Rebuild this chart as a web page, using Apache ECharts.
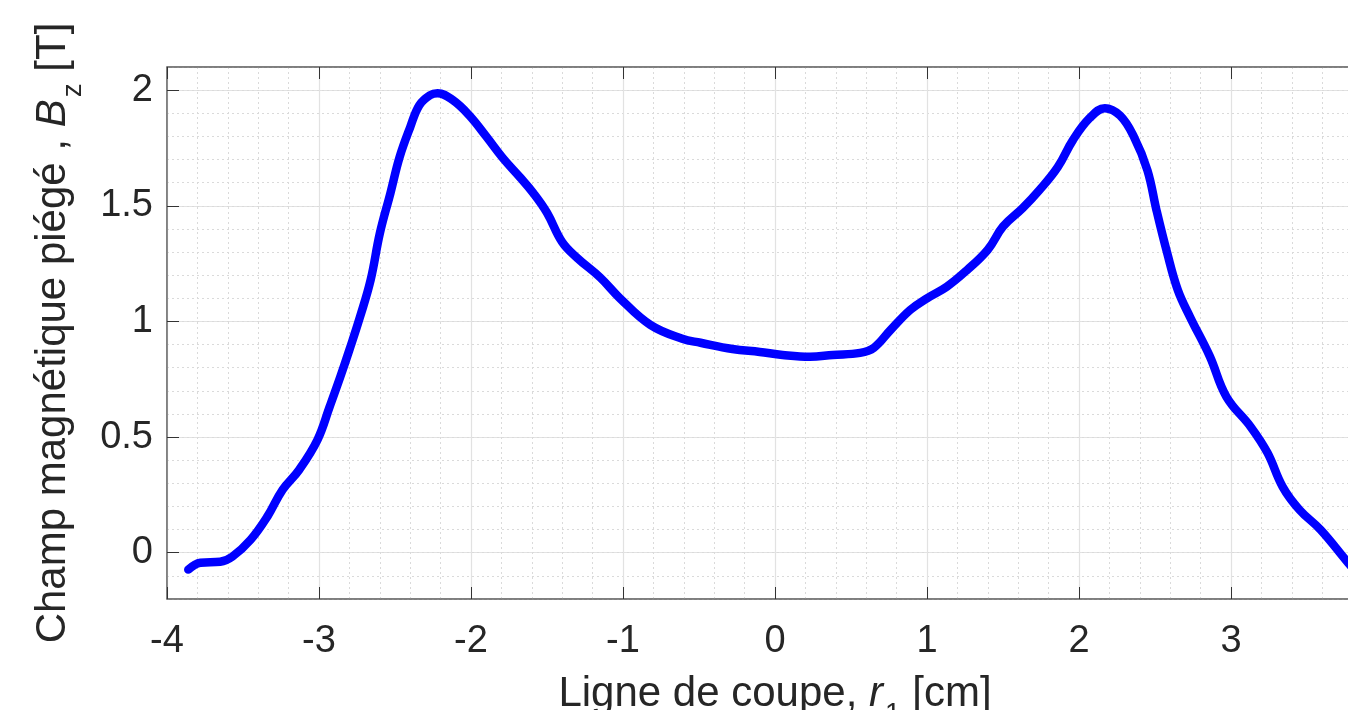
<!DOCTYPE html>
<html>
<head>
<meta charset="utf-8">
<script src="https://cdn.jsdelivr.net/npm/echarts@6/dist/echarts.min.js"></script>
<style>
  html, body { margin: 0; padding: 0; background: #fff; }
  #chart { width: 1348px; height: 710px; }
</style>
</head>
<body>
<div id="chart"></div>
<script>
// cut position r1 [cm]
const rValues = [
  -3.86, -3.78, -3.65, -3.57, -3.45, -3.34, -3.24, -3.13, -3.01, -2.93,
  -2.86, -2.80, -2.73, -2.66, -2.60, -2.53, -2.47, -2.40, -2.34, -2.27,
  -2.22, -2.12, -2.01, -1.90, -1.79, -1.68, -1.59, -1.50, -1.40, -1.30,
  -1.15, -1.02, -0.82, -0.61, -0.49, -0.28, -0.10, 0.05, 0.23, 0.38,
  0.56, 0.65, 0.76, 0.89, 1.00, 1.13, 1.26, 1.40, 1.50, 1.63,
  1.74, 1.86, 1.96, 2.07, 2.17, 2.27, 2.36, 2.45, 2.51, 2.58,
  2.65, 2.73, 2.86, 2.97, 3.13, 3.24, 3.34, 3.45, 3.59, 3.77, 3.86
];
// trapped field Bz [T]
const bzValues = [
  -0.073, -0.043, -0.039, -0.017, 0.056, 0.156, 0.272, 0.359, 0.488, 0.631,
  0.760, 0.877, 1.020, 1.180, 1.380, 1.555, 1.710, 1.840, 1.935, 1.978,
  1.987, 1.957, 1.890, 1.800, 1.706, 1.625, 1.555, 1.470, 1.343, 1.274,
  1.190, 1.100, 0.985, 0.925, 0.908, 0.881, 0.868, 0.855, 0.847, 0.855,
  0.864, 0.886, 0.963, 1.050, 1.100, 1.150, 1.220, 1.310, 1.410, 1.490,
  1.568, 1.667, 1.784, 1.879, 1.922, 1.890, 1.800, 1.654, 1.480, 1.296,
  1.136, 1.020, 0.850, 0.674, 0.544, 0.432, 0.285, 0.186, 0.099, -0.043, -0.11
];
const yTicks = [0, 0.5, 1, 1.5, 2];

const font = 'Liberation Sans';
const textColor = '#262626';
const axisColor = '#6e6e6e';

const chart = echarts.init(document.getElementById('chart'));
chart.setOption({
  animation: false,
  backgroundColor: '#fff',
  grid: {
    left: 167, top: 67, width: 1216, height: 532,
    outerBoundsMode: 'none', containLabel: false,
    show: true, borderColor: axisColor, borderWidth: 1
  },
  xAxis: [
    {
      type: 'value', min: -4, max: 4, interval: 1, position: 'bottom',
      axisLine: { show: true, onZero: false, lineStyle: { color: axisColor, width: 1.5 } },
      axisTick: { show: true, inside: true, length: 12, lineStyle: { color: '#333' } },
      axisLabel: { fontSize: 38, color: textColor, fontFamily: font, margin: 24 },
      splitLine: { show: true, lineStyle: { color: '#e2e2e2', width: 1.2 } },
      minorTick: { show: false, splitNumber: 5 },
      minorSplitLine: { show: true, lineStyle: { color: '#dadada', type: [2, 3], width: 1 } },
      name: '{a|Ligne de coupe, }{i|r}{s|1}{a| [cm]}',
      nameLocation: 'middle', nameGap: 61,
      nameTextStyle: {
        fontSize: 42, color: textColor, fontFamily: font,
        rich: {
          a: { fontSize: 42, color: textColor, fontFamily: font },
          i: { fontSize: 42, color: textColor, fontFamily: font, fontStyle: 'italic' },
          s: { fontSize: 28, color: textColor, fontFamily: font, padding: [40, 0, 0, 2] }
        }
      }
    },
    {
      type: 'value', min: -4, max: 4, interval: 1, position: 'top',
      axisLine: { show: true, onZero: false, lineStyle: { color: axisColor, width: 1.5 } },
      axisTick: { show: true, inside: true, length: 12, lineStyle: { color: '#333' } },
      axisLabel: { show: false },
      splitLine: { show: false }
    }
  ],
  yAxis: [
    {
      type: 'value', min: -0.2, max: 2.1, position: 'left',
      axisLine: { show: true, onZero: false, lineStyle: { color: axisColor, width: 1.5 } },
      axisTick: { show: true, inside: true, length: 12, customValues: yTicks, lineStyle: { color: '#333' } },
      axisLabel: { customValues: yTicks, fontSize: 38, color: textColor, fontFamily: font, margin: 14, formatter: v => String(v) },
      splitLine: { show: true, lineStyle: { color: '#e2e2e2', width: 1.2 } },
      name: '{a|Champ magnétique piégé , }{i|B}{s|z}{a| [T]}',
      nameLocation: 'middle', nameRotate: 90, nameGap: 80,
      nameTextStyle: {
        fontSize: 42, color: textColor, fontFamily: font,
        rich: {
          a: { fontSize: 42, color: textColor, fontFamily: font },
          i: { fontSize: 42, color: textColor, fontFamily: font, fontStyle: 'italic' },
          s: { fontSize: 28, color: textColor, fontFamily: font, padding: [40, 0, 0, 2] }
        }
      }
    },
    {
      type: 'value', min: -0.2, max: 2.1, interval: 0.1, position: 'left',
      axisLine: { show: false, onZero: false }, axisTick: { show: false }, axisLabel: { show: false },
      splitLine: { show: true, lineStyle: { color: '#dadada', type: [2, 3], width: 1 } }
    }
  ],
  series: [
    {
      type: 'line',
      xAxisIndex: 0, yAxisIndex: 0,
      data: rValues.map((r, i) => [r, bzValues[i]]),
      smooth: 0.4,
      showSymbol: false,
      lineStyle: { color: '#0000ff', width: 8.5, cap: 'round', join: 'round' },
      z: 10
    }
  ]
});
</script>
</body>
</html>
